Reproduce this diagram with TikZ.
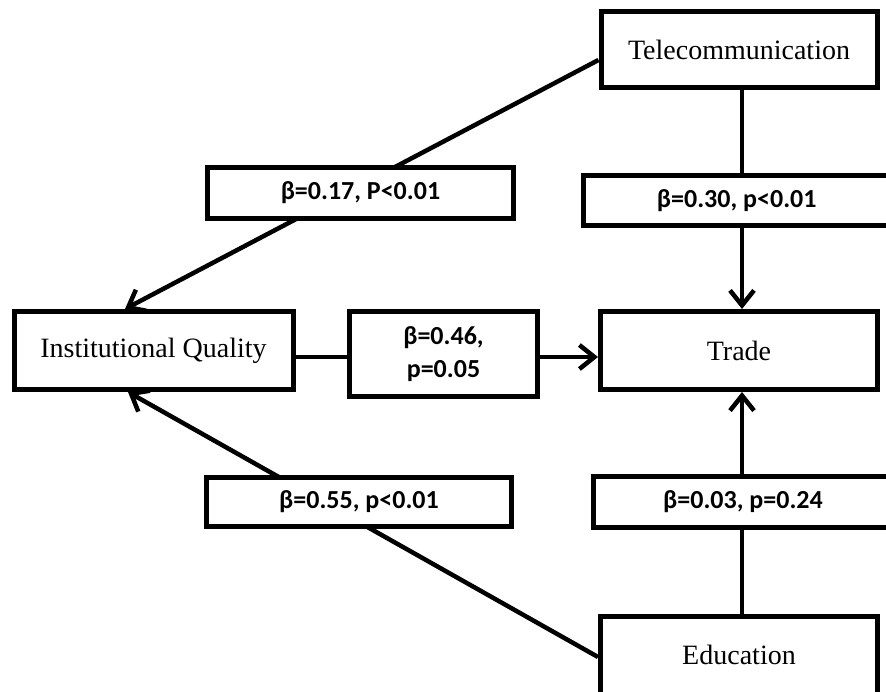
\documentclass[tikz,border=0pt]{standalone}
\usepackage{fontspec}
\setmainfont{Liberation Serif}
\newfontfamily\lblfont{Carlito}
\usetikzlibrary{arrows.meta,calc}
\begin{document}
\begin{tikzpicture}[x=1pt,y=-1pt,
  box/.style={draw, line width=5pt, fill=white, inner sep=0pt,
    font=\fontsize{28}{32}\selectfont},
  lbl/.style={draw, line width=5pt, fill=white, inner sep=0pt,
    font=\lblfont\bfseries\fontsize{26}{33}\selectfont, align=center},
  conn/.style={line width=4.5pt},
  arr/.style={conn, -{Straight Barb[length=15pt,width=24pt,line width=4.5pt]}}]
\useasboundingbox (0,0) rectangle (886,692);
\clip (0,0) rectangle (886,692);
\fill[white] (0,0) rectangle (886,692);

% main boxes
\node[box, minimum width=276pt, minimum height=76pt] (tel) at (739,50) {Telecommunication};
\node[box, minimum width=279pt, minimum height=78pt] (iq) at (153.5,350.5) {Institutional Quality};
\node[box, minimum width=277pt, minimum height=78pt] (trade) at (739,350.5) {Trade};
\node[box, minimum width=277pt, minimum height=78pt] (edu) at (739,655) {Education};
\node[lbl, minimum width=188pt, minimum height=84.5pt] (b46) at (443.5,354) {β=0.46,\\p=0.05};

% connectors
\draw[arr] ([yshift=-10pt]tel.west) -- ([xshift=-28.5pt]iq.north);
\draw[arr] ([yshift=-2pt]edu.west) -- ([xshift=-25.5pt]iq.south);
\draw[arr] ([xshift=3pt]tel.south) -- ([xshift=3pt]trade.north);
\draw[arr] ([xshift=3pt]edu.north) -- ([xshift=3pt]trade.south);
\draw[conn] ([yshift=-6.5pt]iq.east) -- ([yshift=-3pt]b46.west);
\draw[arr] ([yshift=-3pt]b46.east) -- ([yshift=-6.5pt]trade.west);

% coefficient labels
\node[lbl, minimum width=306pt, minimum height=50.5pt] (b17) at (360.5,193) {β=0.17, P<0.01};
\node[lbl, minimum width=306.5pt, minimum height=50pt] (b30) at (736.75,201) {β=0.30, p<0.01};
\node[lbl, minimum width=305pt, minimum height=49.5pt] (b55) at (359,502) {β=0.55, p<0.01};
\node[lbl, minimum width=299.5pt, minimum height=50.5pt] (b03) at (743,502) {β=0.03, p=0.24};
\end{tikzpicture}
\end{document}
